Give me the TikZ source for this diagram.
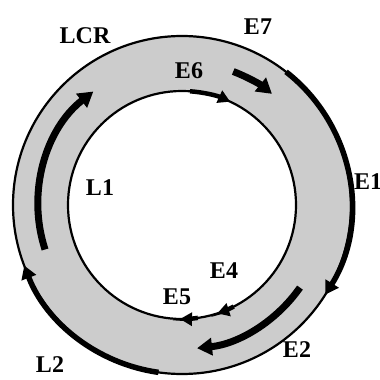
\documentclass[tikz,border=0pt]{standalone}
\usepackage{fontspec}
\setmainfont{Liberation Serif}
\usetikzlibrary{arrows.meta}
\definecolor{ringgray}{gray}{0.80}
\begin{document}
\begin{tikzpicture}[x=1pt,y=1pt,
  lbl/.style={font=\bfseries\fontsize{24}{24}\selectfont, inner sep=0pt},
  thin/.style={line width=2.2pt},
  thickarc/.style={line width=7pt, -{Triangle[length=15pt,width=17pt]}},
  edgearc/.style={line width=5.5pt, -{Triangle[length=13pt,width=15pt]}},
  tipsmall/.style={line width=4.5pt, -{Triangle[length=12pt,width=13pt]}}]
\useasboundingbox (0,0) rectangle (380,-380);
\coordinate (C) at (182,-205);
% ring
\fill[ringgray, even odd rule] (C) circle[radius=169] (C) circle[radius=114];
\draw[thin] (C) circle[radius=169];
\draw[thin] (C) circle[radius=114];
% outer thick segments
\draw[edgearc] ([shift={(C)}]52:169) arc[start angle=52, end angle=-32, radius=169];
\draw[edgearc] ([shift={(C)}]262:169) arc[start angle=262, end angle=201, radius=169];
% inner ring arrows
\draw[thickarc] ([shift={(C)}]198:144) arc[start angle=198, end angle=128, radius=144];
\draw[thickarc] ([shift={(C)}]69:143) arc[start angle=69, end angle=51, radius=143];
\draw[thickarc] ([shift={(C)}]-35:144) arc[start angle=-35, end angle=-84, radius=144];
% inner circle arrows
\draw[tipsmall] ([shift={(C)}]86:114) arc[start angle=86, end angle=65, radius=114];
\draw[tipsmall] ([shift={(C)}]-63:114) arc[start angle=-63, end angle=-72, radius=114];
\draw[tipsmall] ([shift={(C)}]-82:114) arc[start angle=-82, end angle=-91, radius=114];
% labels
\node[lbl] (lcr) at (85,-36) {LCR};
\node[lbl] (e7) at (258,-27) {E7};
\node[lbl] (e6) at (189,-71) {E6};
\node[lbl,anchor=west] (e1) at (354,-182) {E1};
\node[lbl] (l1) at (100,-188) {L1};
\node[lbl] (l2) at (50,-365) {L2};
\node[lbl] (e4) at (224,-271) {E4};
\node[lbl] (e5) at (177,-297) {E5};
\node[lbl] (e2) at (297,-350) {E2};
\end{tikzpicture}
\end{document}
